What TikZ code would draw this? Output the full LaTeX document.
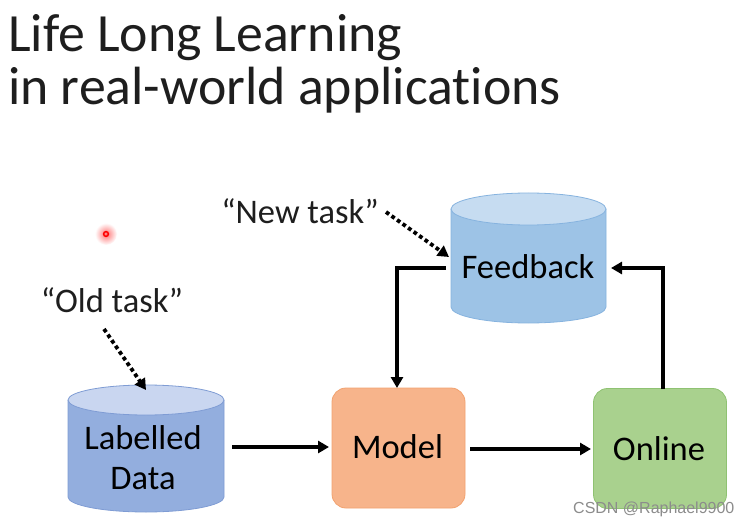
\documentclass[tikz,border=0pt]{standalone}
\usepackage{fontspec}
\setmainfont[Ligatures={NoCommon}]{Carlito}
\newfontfamily\wmfont{Liberation Sans}
\usetikzlibrary{arrows.meta}
\definecolor{ldbody}{HTML}{93AEDE}
\definecolor{ldtop}{HTML}{C9D6F0}
\definecolor{ldline}{HTML}{7F9CD4}
\definecolor{fbbody}{HTML}{9DC3E6}
\definecolor{fbtop}{HTML}{C6DCF1}
\definecolor{fbline}{HTML}{86B3DF}
\definecolor{mdfill}{HTML}{F7B48B}
\definecolor{mdline}{HTML}{F2A26F}
\definecolor{onfill}{HTML}{A9D18E}
\definecolor{online}{HTML}{8FC272}
\definecolor{titlec}{HTML}{1E1E1E}
\tikzset{
  boxtext/.style={font=\fontsize{34.5}{40}\selectfont, text=black, align=center},
  flow/.style={line width=3.5pt, -{Triangle[length=11pt,width=12pt]}},
  dotarrow/.style={line width=3.8pt, dash pattern=on 3.8pt off 3pt, -{Triangle[length=11pt,width=12pt]}},
  roundbox/.style={rounded corners=14pt, line width=0.8pt, minimum width=133pt, minimum height=120pt, inner sep=0pt},
  tasktext/.style={font=\fontsize{34.5}{40}\selectfont, text=titlec},
  titletext/.style={anchor=base west, inner sep=0pt, font=\fontsize{53.8}{60}\selectfont, text=titlec},
}
\begin{document}
\begin{tikzpicture}[x=1pt,y=1pt]
\useasboundingbox[fill=white] (0,0) rectangle (751,525);
% title
\node[titletext] (t1) at (8,473) {Life Long Learning};
\node[titletext] (t2) at (8,420) {in real-world applications};
% laser dot
\shade[inner color=red!55, outer color=white] (106,291) circle (11pt);
\draw[red, line width=1.5pt] (106,291) circle (2.4pt);
% Labelled Data cylinder
\fill[ldbody] (68,125) -- (68,28) arc (180:360:78pt and 15pt) -- (224,125) -- cycle;
\draw[ldline, line width=0.8pt] (68,125) -- (68,28) arc (180:360:78pt and 15pt) -- (224,125);
\draw[ldline, line width=0.8pt, fill=ldtop] (146,125) ellipse (78pt and 15pt);
\node[boxtext, minimum width=156pt, minimum height=110pt] (ld) at (143,67) {Labelled\\[0pt]Data};
% Feedback cylinder
\fill[fbbody] (451,316) -- (451,218) arc (180:360:77.5pt and 16pt) -- (606,316) -- cycle;
\draw[fbline, line width=0.8pt] (451,316) -- (451,218) arc (180:360:77.5pt and 16pt) -- (606,316);
\draw[fbline, line width=0.8pt, fill=fbtop] (528.5,316) ellipse (77.5pt and 16pt);
\node[boxtext, minimum width=155pt, minimum height=60pt] (fb) at (528,258) {Feedback};
% Model and Online
\node[roundbox, draw=mdline, fill=mdfill] (mdbox) at (398.5,77) {};
\node[boxtext] (md) at (397.5,78) {Model};
\node[roundbox, draw=online, fill=onfill] (onbox) at (660,76.5) {};
\node[boxtext] (on) at (659,76) {Online};
% task labels
\node[tasktext] (old) at (112,225) {“Old task”};
\node[tasktext] (new) at (300,314) {“New task”};
% arrows
\coordinate (ldR) at (232,78);
\coordinate (mdL) at (329,78);
\coordinate (mdR) at (470,76);
\coordinate (onL) at (591,76);
\coordinate (onT) at (663,136);
\coordinate (fbR) at (611,257);
\coordinate (fbL) at (446,257);
\coordinate (mdT) at (397,137);
\draw[flow] (ldR) -- (mdL);
\draw[flow] (mdR) -- (onL);
\draw[flow] (onT) |- (fbR);
\draw[flow] (fbL) -| (mdT);
\coordinate (oldS) at (104,196);
\coordinate (oldE) at (146,135);
\coordinate (newS) at (386,313);
\coordinate (newE) at (449,268);
\draw[dotarrow] (oldS) -- (oldE);
\draw[dotarrow] (newS) -- (newE);
% watermark
\node[anchor=base west, inner sep=0pt, font=\wmfont\fontsize{16}{18}\selectfont, text=black!45] (wm) at (573,12) {CSDN @Raphael9900};
\end{tikzpicture}
\end{document}
